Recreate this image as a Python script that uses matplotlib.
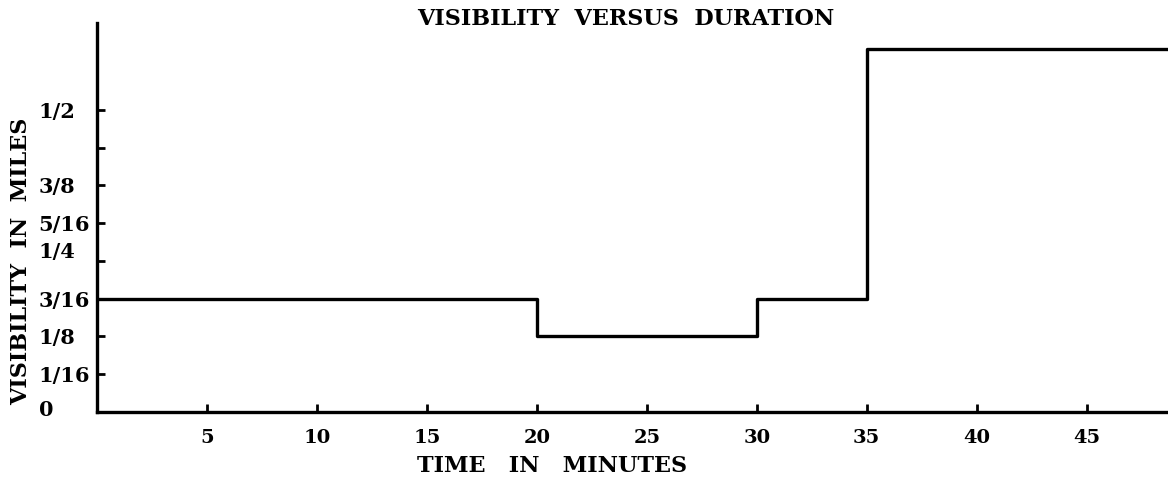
import matplotlib
matplotlib.use("Agg")
import matplotlib.pyplot as plt
from matplotlib.transforms import ScaledTranslation

# step edges (minutes) and visibility (miles) on each interval
times = [0, 20, 30, 35, 48.7]
visibility = [3/16, 1/8, 3/16, 0.6]

x_ticks = [5, 10, 15, 20, 25, 30, 35, 40, 45]
y_ticks = [0, 1/16, 2/16, 3/16, 4/16, 5/16, 6/16, 7/16, 8/16]
y_labels = ["0", "1/16", "1/8", "3/16", "1/4", "5/16", "3/8", "", "1/2"]

plt.rcParams['font.family'] = ['DejaVu Serif']
plt.rcParams['font.weight'] = 'bold'

fig = plt.figure(figsize=(11.68, 4.95), dpi=100)
ax = fig.add_axes([0.083, 0.168, 0.917, 0.786])

ax.plot(times, visibility + [visibility[-1]], drawstyle="steps-post",
        color="black", lw=2.4, solid_joinstyle="round")

ax.set_xlim(0, 48.7)
ax.set_ylim(0, 0.644)

for s in ["top", "right"]:
    ax.spines[s].set_visible(False)
for s in ["left", "bottom"]:
    ax.spines[s].set_linewidth(2.4)

ax.set_xticks(x_ticks)
ax.set_xticklabels([str(t) for t in x_ticks], fontsize=14, fontweight="bold")
ax.tick_params(axis="x", direction="in", length=6, width=2, pad=12)

ax.set_yticks(y_ticks)
ax.set_yticklabels(y_labels, fontsize=15, fontweight="bold")
ax.tick_params(axis="y", direction="in", length=6, width=2, pad=42)
for lab in ax.get_yticklabels():
    lab.set_horizontalalignment("left")
    if lab.get_text() == "1/4":
        lab.set_transform(lab.get_transform() + ScaledTranslation(0, 8/72, fig.dpi_scale_trans))
    if lab.get_text() == "0":
        lab.set_transform(lab.get_transform() + ScaledTranslation(0, 3/72, fig.dpi_scale_trans))

fig.text(0.536, 0.962, "VISIBILITY  VERSUS  DURATION", ha="center", va="center",
         fontsize=16, fontweight="bold")
fig.text(0.473, 0.058, "TIME   IN   MINUTES", ha="center", va="center",
         fontsize=16, fontweight="bold")
fig.text(0.018, 0.473, "VISIBILITY  IN  MILES", ha="center", va="center",
         rotation=90, fontsize=16, fontweight="bold")

fig.savefig("out.png", dpi=100)
